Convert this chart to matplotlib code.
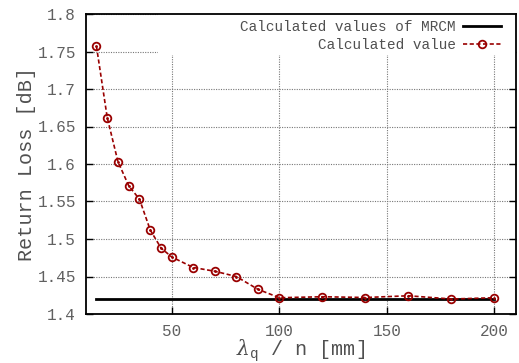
import matplotlib.pyplot as plt
from matplotlib.patches import Rectangle
from matplotlib.ticker import FuncFormatter

# data
lam_n = [15, 20, 25, 30, 35, 40, 45, 50, 60, 70, 80, 90, 100, 120, 140, 160, 180, 200]
return_loss = [1.757, 1.662, 1.603, 1.571, 1.553, 1.512, 1.488, 1.476, 1.462, 1.457,
               1.450, 1.433, 1.4217, 1.423, 1.422, 1.4243, 1.420, 1.4217]
mrcm_x = [15, 200]
mrcm_y = [1.42, 1.42]

x_ticks = [50, 100, 150, 200]
y_ticks = [1.4, 1.45, 1.5, 1.55, 1.6, 1.65, 1.7, 1.75, 1.8]

plt.rcParams['font.family'] = ['Liberation Mono', 'DejaVu Sans']
plt.rcParams['mathtext.fontset'] = 'dejavuserif'

fig = plt.figure(figsize=(5.19, 3.63), dpi=100)
ax = fig.add_axes([85.7 / 519, 1 - 314 / 363, (516 - 85.7) / 519, 300 / 363])

dark_red = '#990000'
ax.plot(mrcm_x, mrcm_y, color='black', lw=2, label='Calculated values of MRCM', zorder=3)
ax.plot(lam_n, return_loss, color=dark_red, lw=1.2, ls=(0, (2.5, 1.5)), marker='o',
        markersize=5.5, markerfacecolor='none', markeredgewidth=1.3,
        label='Calculated value', zorder=4)
# small centre dot of gnuplot circles
ax.plot(lam_n, return_loss, ls='none', marker='.', markersize=2, color=dark_red, zorder=4)

ax.set_xlim(10, 210)
ax.set_ylim(1.4, 1.8)
ax.set_xticks(x_ticks)
ax.set_yticks(y_ticks)
ax.yaxis.set_major_formatter(FuncFormatter(lambda v, p: f'{v:g}'))
ax.tick_params(direction='in', top=True, right=True, length=5, width=1,
               labelsize=11.5, labelcolor='#606060', pad=7)

ax.set_axisbelow(True)
ax.grid(True, color='#777777', ls=(0, (1, 1.2)), lw=0.8)
ax.add_patch(Rectangle((0.168, 0.863), 0.832, 0.137, transform=ax.transAxes,
                       facecolor='white', edgecolor='none', zorder=1))
for s in ax.spines.values():
    s.set_linewidth(1.3)

ax.set_ylabel('Return Loss [dB]', fontsize=14.5, color='#505050', labelpad=1)
ax.set_xlabel(r'$\lambda_{\mathregular{q}}$ / n [mm]', fontsize=14.5, color='#505050', labelpad=-1)

leg = ax.legend(loc='upper right', bbox_to_anchor=(0.9645, 0.98), markerfirst=False,
                frameon=False, fontsize=10.4, handlelength=2.6, handletextpad=0.5,
                labelspacing=0.3, borderpad=0, borderaxespad=0, labelcolor='#505050')

fig.savefig('out.png', dpi=100)
